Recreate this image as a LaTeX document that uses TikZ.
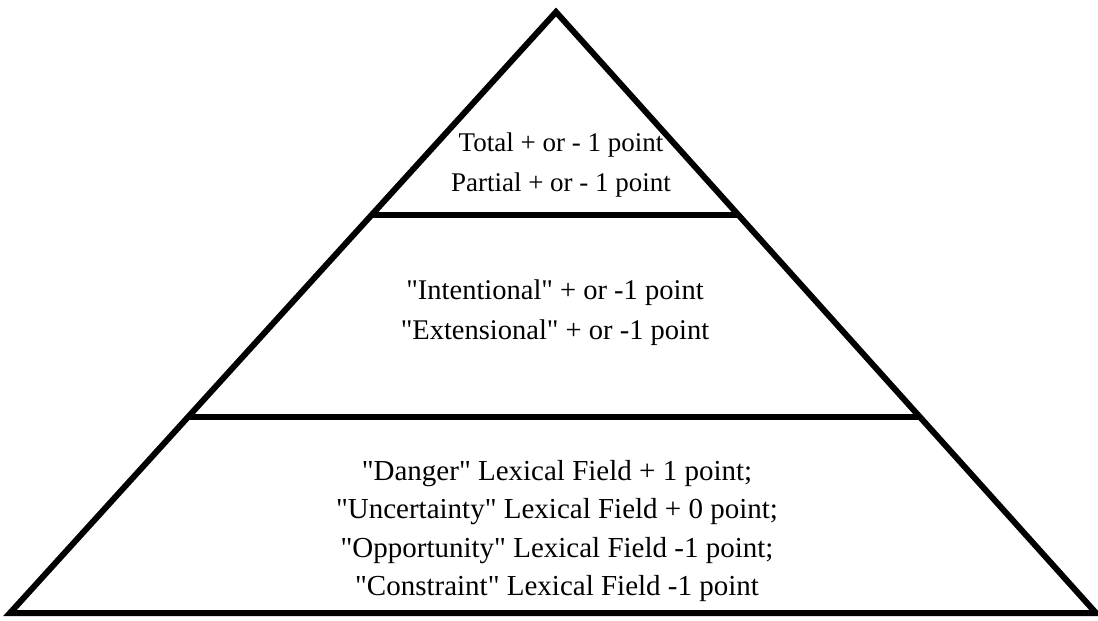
\documentclass[tikz,border=0pt]{standalone}
\usepackage{fontspec}
\newfontfamily\pyrfont{Liberation Serif}
\usepackage{tikz}
\usetikzlibrary{positioning, calc}

\begin{document}
\begin{tikzpicture}[x=1pt, y=-1pt, line join=miter]
\tikzset{
  tier/.style={line width=6pt},
  tiertext/.style={align=center, font=\pyrfont\fontsize{28.5}{40}\selectfont, inner sep=0pt}
}
\useasboundingbox (0,0) rectangle (1098,621);
% outline of the pyramid
\coordinate (apex) at (556,12);
\coordinate (baseL) at (10,613);
\coordinate (baseR) at (1096,613);
\draw[tier] (apex) -- (baseL) -- (baseR) -- cycle;
% tier boundaries
\coordinate (midL) at ($(apex)!0.338!(baseL)$);
\coordinate (midR) at ($(apex)!0.338!(baseR)$);
\coordinate (lowL) at ($(apex)!0.674!(baseL)$);
\coordinate (lowR) at ($(apex)!0.674!(baseR)$);
\draw[tier] (midL) -- (midR);
\draw[tier] (lowL) -- (lowR);
% texts
\node[tiertext, font=\pyrfont\fontsize{27}{40}\selectfont] (toptext) at (561,165)
  {Total + or - 1 point\\Partial + or - 1 point};
\node[tiertext] (midtext) at (555,313) {"Intentional" + or -1 point\\"Extensional" + or -1 point};
\node[tiertext, font=\pyrfont\fontsize{29}{38.5}\selectfont] (lowtext) at (557,531)
  {"Danger" Lexical Field + 1 point;\\"Uncertainty" Lexical Field + 0 point;\\"Opportunity" Lexical Field -1 point;\\"Constraint" Lexical Field -1 point};
\end{tikzpicture}
\end{document}
